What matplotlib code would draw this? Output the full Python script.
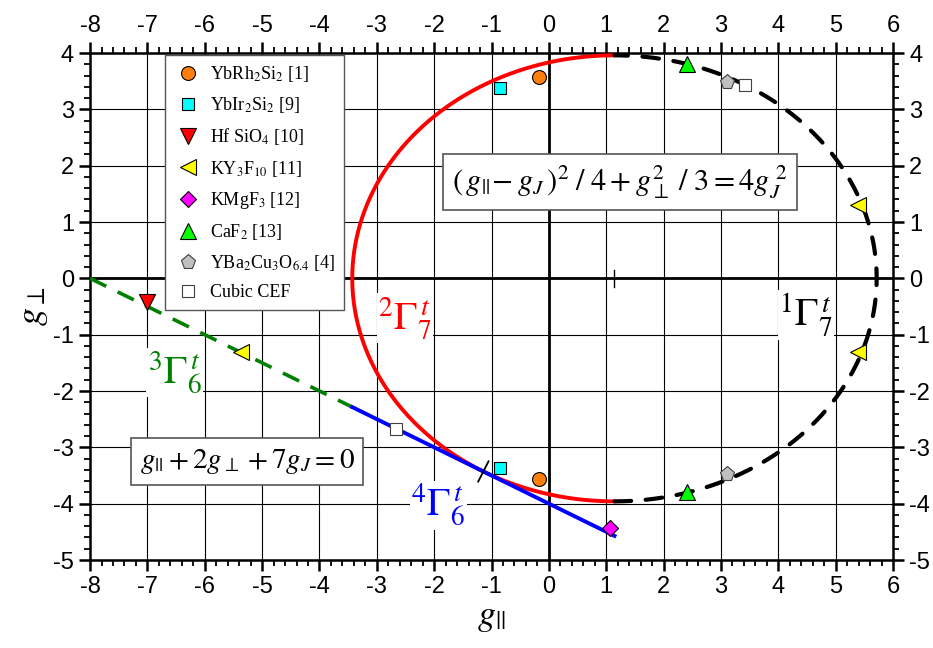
import matplotlib

matplotlib.use("Agg")
import matplotlib.pyplot as plt
import numpy as np
from matplotlib.ticker import MultipleLocator

plt.rcParams["font.family"] = ["Liberation Sans", "DejaVu Sans"]
plt.rcParams["mathtext.fontset"] = "stix"
plt.rcParams["axes.unicode_minus"] = False

# g_J for Yb3+ (J = 7/2)
G_J = 8 / 7

# measured / calculated g-factors (g_par, g_perp)
yb_rh2si2_x = [-0.17, -0.17]
yb_rh2si2_y = [3.57, -3.57]
yb_ir2si2_x = [-0.86, -0.86]
yb_ir2si2_y = [3.37, -3.37]
hf_sio4_x = [-7.0]
hf_sio4_y = [-0.42]
ky3f10_x = [5.38, 5.38, -5.37]
ky3f10_y = [1.31, -1.31, -1.31]
kmgf3_x = [1.06]
kmgf3_y = [-4.43]
caf2_x = [2.40, 2.40]
caf2_y = [3.81, -3.80]
ybco_x = [3.10, 3.10]
ybco_y = [3.49, -3.48]
cubic_x = [3.42, -2.67]
cubic_y = [3.44, -2.67]

fig = plt.figure(figsize=(9.33, 6.48), dpi=100)
ax = fig.add_axes([0.0965, 0.1358, 0.8607, 0.7824])

# grid and zero lines
ax.set_xlim(-8, 6)
ax.set_ylim(-5, 4)
ax.xaxis.set_major_locator(MultipleLocator(1))
ax.yaxis.set_major_locator(MultipleLocator(1))
ax.xaxis.set_minor_locator(MultipleLocator(0.2))
ax.yaxis.set_minor_locator(MultipleLocator(0.2))
ax.grid(True, which="major", color="black", linewidth=0.8, zorder=0)
ax.axhline(0, color="black", linewidth=2, zorder=1)
ax.axvline(0, color="black", linewidth=2, zorder=1)

# ellipse (g_par - gJ)^2/4 + g_perp^2/3 = 4 gJ^2
t_left = np.linspace(np.pi / 2, 3 * np.pi / 2, 300)
t_right = np.linspace(-np.pi / 2, np.pi / 2, 300)
a, b = 4 * G_J, 2 * np.sqrt(3) * G_J
ax.plot(G_J + a * np.cos(t_left), b * np.sin(t_left), color="red", linewidth=2.8, zorder=3)
ax.plot(G_J + a * np.cos(t_right), b * np.sin(t_right), color="black", linewidth=3,
        dashes=(4, 3.5), dash_capstyle="round", zorder=3)

# line g_par + 2 g_perp + 7 gJ = 0
x_green = np.array([-8, G_J - a])
x_blue = np.array([G_J - a, G_J])
ax.plot(x_green, -(x_green + 7 * G_J) / 2, color="green", linewidth=2.6,
        dashes=(5, 3.5), zorder=3)
ax.plot(x_blue, -(x_blue + 7 * G_J) / 2, color="blue", linewidth=2.8, zorder=3)

# tangent mark and gJ mark
ax.plot([-G_J - 0.09, -G_J + 0.09], [-3 * G_J - 0.18, -3 * G_J + 0.18],
        color="black", linewidth=1.3, zorder=3)
ax.plot([G_J, G_J], [-0.15, 0.15], color="black", linewidth=1.0, zorder=3)

ms = 10
ax.plot(yb_rh2si2_x, yb_rh2si2_y, "o", mfc="#ff7f0e", mec="black", mew=0.8,
        ms=ms, ls="none", label=r"YbRh$_2$Si$_2$ [1]", zorder=5)
ax.plot(yb_ir2si2_x, yb_ir2si2_y, "s", mfc="cyan", mec="black", mew=0.8, ms=ms - 1,
        ls="none", label=r"YbIr$_2$Si$_2$ [9]", zorder=5)
ax.plot(hf_sio4_x, hf_sio4_y, "v", mfc="red", mec="black", mew=0.8, ms=ms + 1,
        ls="none", label=r"Hf SiO$_4$ [10]", zorder=5)
ax.plot(ky3f10_x, ky3f10_y, "<", mfc="yellow", mec="black", mew=0.8, ms=ms + 1,
        ls="none", label=r"KY$_3$F$_{10}$ [11]", zorder=5)
ax.plot(kmgf3_x, kmgf3_y, "D", mfc="magenta", mec="black", mew=0.8, ms=ms - 2,
        ls="none", label=r"KMgF$_3$ [12]", zorder=5)
ax.plot(caf2_x, caf2_y, "^", mfc="lime", mec="black", mew=0.8, ms=ms + 1,
        ls="none", label=r"CaF$_2$ [13]", zorder=5)
ax.plot(ybco_x, ybco_y, "p", mfc="#c0c0c0", mec="#404040", mew=0.8, ms=ms + 1,
        ls="none", label=r"YBa$_2$Cu$_3$O$_{6.4}$ [4]", zorder=5)
ax.plot(cubic_x, cubic_y, "s", mfc="white", mec="#404040", mew=0.8, ms=ms - 1,
        ls="none", label="Cubic CEF", zorder=5)

leg = ax.legend(loc="upper left", bbox_to_anchor=(0.093, 0.996), borderaxespad=0,
                prop={"family": "Liberation Serif", "size": 13}, fancybox=False,
                framealpha=1, edgecolor="#555555", labelspacing=0.62,
                handletextpad=0.4, borderpad=0.5, numpoints=1, handlelength=1.6)
leg.set_zorder(10)

# state labels
box = dict(facecolor="white", edgecolor="none", pad=1)
ax.text(-2.51, -0.71, r"${}^{2}\Gamma_{7}^{\,t}$", color="red", fontsize=28,
        ha="center", va="center", bbox=box, zorder=4)
ax.text(4.48, -0.65, r"${}^{1}\Gamma_{7}^{\,t}$", color="black", fontsize=28,
        ha="center", va="center", bbox=box, zorder=4)
ax.text(-6.52, -1.67, r"${}^{3}\Gamma_{6}^{\,t}$", color="green", fontsize=28,
        ha="center", va="center", bbox=box, zorder=4)
ax.text(-1.93, -4.03, r"${}^{4}\Gamma_{6}^{\,t}$", color="blue", fontsize=28,
        ha="center", va="center", bbox=box, zorder=4)

eqbox = dict(boxstyle="square,pad=0.3", facecolor="white", edgecolor="#555555", linewidth=1.2)
ax.text(1.24, 1.71, r"$(\,g_{||}\!-g_J\,)^2\;/\;4+g_{\perp}^2\;/\;3=4g_J^{\;2}$",
        fontsize=22, ha="center", va="center", bbox=eqbox, zorder=6)
ax.text(-5.26, -3.25, r"$g_{||}+2g_{\perp}+7g_J=0$",
        fontsize=21, ha="center", va="center", bbox=eqbox, zorder=6)

ax.set_xlabel(r"$g_{||}$", fontsize=26, labelpad=1)
ax.set_ylabel(r"$g_{\perp}$", fontsize=26, labelpad=2)

ax.tick_params(which="both", top=True, right=True, labeltop=True, labelright=True,
               direction="out", labelsize=17)
ax.tick_params(which="major", length=8, width=1.8)
ax.tick_params(which="minor", length=4.5, width=1.3)
for s in ax.spines.values():
    s.set_linewidth(1.8)

fig.savefig("out.png", dpi=100)
